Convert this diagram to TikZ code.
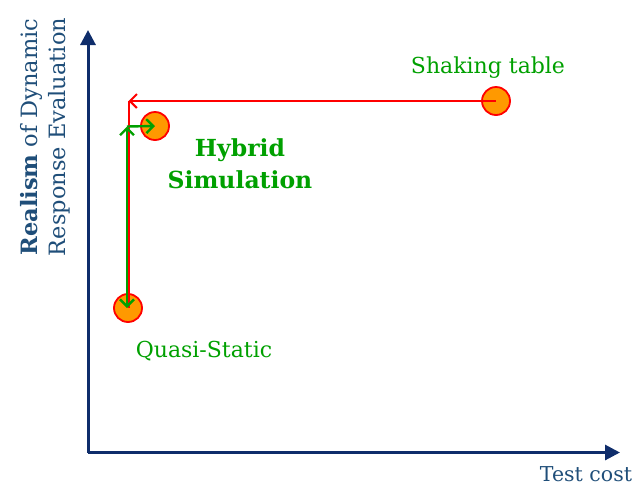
\documentclass[tikz,border=0pt]{standalone}
\usepackage{fontspec}
\setmainfont{DejaVu Serif}
\usetikzlibrary{arrows.meta}
\definecolor{navy}{HTML}{0F2D6B}
\definecolor{navytext}{HTML}{1F4E79}
\definecolor{grn}{HTML}{00A000}
\definecolor{orng}{HTML}{FF9900}
\begin{document}
\begin{tikzpicture}[x=1pt,y=-1pt,
  axis/.style={draw=navy,line width=3pt,line join=miter,-{Triangle[length=15pt,width=15pt]}},
  dot/.style={circle,draw=red,fill=orng,line width=1.8pt,minimum size=28pt,inner sep=0pt},
  redline/.style={draw=red,line width=2pt},
  grnline/.style={draw=grn,line width=2.4pt},
  barb/.tip={Straight Barb[length=7pt,width=14pt]},
  lbl/.style={text=grn,font=\fontsize{22}{26}\selectfont,inner sep=0pt},
  axlbl/.style={text=navytext,font=\fontsize{22}{26}\selectfont,inner sep=0pt}]
\useasboundingbox (0,0) rectangle (640,488);
\coordinate (origin) at (88,452.5);
\coordinate (ytip) at (88,30);
\coordinate (xtip) at (620,452.5);
\draw[axis] (origin) -- (ytip);
\draw[axis] (origin) -- (xtip);
\node[dot] (shake) at (496,101) {};
\node[dot] (hyb) at (155,126) {};
\node[dot] (quasi) at (128,308) {};
\coordinate (rcorner) at (128.5,101);
\coordinate (gcorner) at (127,126.5);
\draw[redline] (rcorner) -- (rcorner |- quasi.center);
\draw[redline,-{barb}] (shake.center) -- (rcorner);
\draw[grnline,{barb}-{barb}] (quasi.center -| gcorner) -- (gcorner);
\draw[grnline,-{barb}] (gcorner) -- (hyb.center);
\node[lbl] (lshake) at (488,68) {Shaking table};
\node[lbl,font=\bfseries\fontsize{23.5}{32}\selectfont,align=center] (lhyb) at (240,164) {Hybrid\\Simulation};
\node[lbl] (lquasi) at (204,351) {Quasi-Static};
\node[axlbl,font=\fontsize{20.5}{26}\selectfont] (lx) at (586,474) {Test cost};
\node[axlbl,rotate=90,align=center,font=\fontsize{22.5}{28}\selectfont] (ly) at (45,137) {\textbf{Realism} of Dynamic\\Response Evaluation};
\end{tikzpicture}
\end{document}
